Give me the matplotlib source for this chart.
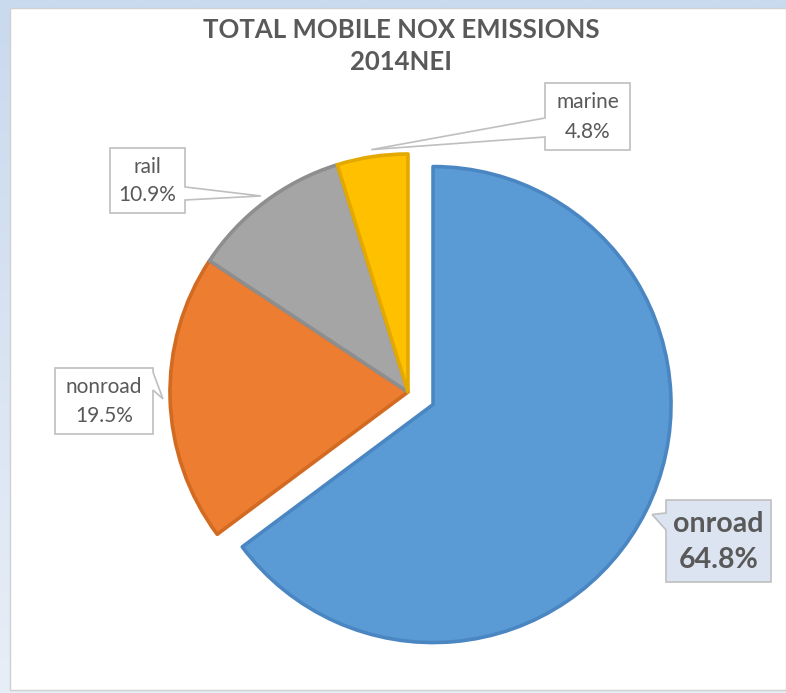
import numpy as np
import matplotlib.pyplot as plt
from matplotlib.patches import Polygon, Rectangle

plt.rcParams['font.family'] = ['Lato', 'DejaVu Sans']

W, H = 786, 693

# chart data
labels = ["onroad", "nonroad", "rail", "marine"]
shares = [64.8, 19.5, 10.9, 4.8]
pct_text = ["64.8%", "19.5%", "10.9%", "4.8%"]
colors = ["#5B9BD5", "#ED7D31", "#A5A5A5", "#FFC000"]
edges = ["#4A86C2", "#D26A22", "#8E8E8E", "#E3A900"]
explode = [28, 0, 0, 0]

TEXT = "#595959"


def iy(y):
    # image y (from top) -> data y (from bottom)
    return H - y


fig = plt.figure(figsize=(W / 100, H / 100), dpi=100)

# light blue slide background
bg = fig.add_axes([0, 0, 1, 1])
grad = np.linspace(0, 1, 256).reshape(1, -1)
bg.imshow(np.vstack([grad] * 2).T, extent=[0, W, 0, H], aspect="auto",
          cmap=plt.matplotlib.colors.LinearSegmentedColormap.from_list(
              "bgc", ["#E8EEF7", "#C9D9EE"]), origin="lower")
bg.set_xlim(0, W)
bg.set_ylim(0, H)
bg.axis("off")

ax = fig.add_axes([0, 0, 1, 1])
ax.add_patch(Rectangle((10, iy(690)), W - 10, 682, facecolor="white",
                       edgecolor="#D0D0D0", lw=1, zorder=0))

wedges, _ = ax.pie(shares, colors=colors, startangle=90, counterclock=False,
                   explode=explode, center=(408, iy(392)), radius=238,
                   wedgeprops=dict(linewidth=2.6, joinstyle="round"))
for w, ec in zip(wedges, edges):
    w.set_edgecolor(ec)

ax.set_xlim(0, W)
ax.set_ylim(0, H)
ax.set_aspect("equal", adjustable="box")
ax.axis("off")

ax.text(401, iy(30), "TOTAL MOBILE NOX EMISSIONS", ha="center", va="center",
        fontsize=18.5, fontweight="bold", color=TEXT)
ax.text(401, iy(62), "2014NEI", ha="center", va="center",
        fontsize=18.5, fontweight="bold", color=TEXT)

# label boxes: (x0, y0, x1, y1) in image px, side of tail, tail base y range
boxes = {
    "onroad": ((666, 500, 771, 582), "left", (513, 530)),
    "nonroad": ((55, 368, 153, 434), "right", (372, 390)),
    "rail": ((110, 148, 185, 213), "right", (187, 200)),
    "marine": ((545, 83, 630, 150), "left", (118, 137)),
}

for i, (w, name) in enumerate(zip(wedges, labels)):
    (x0, y0, x1, y1), side, (b1, b2) = boxes[name]
    ang = np.deg2rad((w.theta1 + w.theta2) / 2)
    cx, cy = w.center
    tip = (cx + w.r * 1.03 * np.cos(ang), cy + w.r * 1.03 * np.sin(ang))
    if side == "left":
        pts = [(x0, iy(y0)), (x1, iy(y0)), (x1, iy(y1)), (x0, iy(y1)),
               (x0, iy(b2)), tip, (x0, iy(b1))]
    else:
        pts = [(x0, iy(y0)), (x1, iy(y0)), (x1, iy(b1)), tip,
               (x1, iy(b2)), (x1, iy(y1)), (x0, iy(y1))]
    bold = name == "onroad"
    ax.add_patch(Polygon(pts, closed=True,
                         facecolor="#DCE4F1" if bold else "white",
                         edgecolor="#BFBFBF", lw=1.2, zorder=5))
    xc = (x0 + x1) / 2
    fs = 20.5 if bold else 15
    fw = "bold" if bold else "normal"
    h = y1 - y0
    ax.text(xc, iy(y0 + h * 0.29), name, ha="center", va="center",
            fontsize=fs, fontweight=fw, color=TEXT, zorder=6)
    ax.text(xc, iy(y0 + h * 0.73), pct_text[i], ha="center", va="center",
            fontsize=fs, fontweight=fw, color=TEXT, zorder=6)

fig.savefig("out.png", dpi=100)
